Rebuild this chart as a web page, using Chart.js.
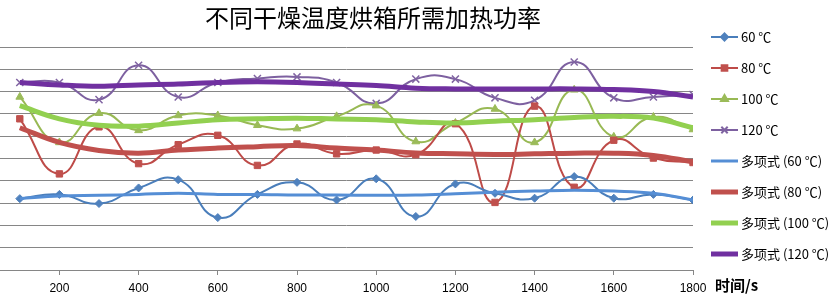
<!DOCTYPE html>
<html>
<head>
<meta charset="utf-8">
<script src="https://cdn.jsdelivr.net/npm/chart.js@4"></script>
<style>
  body { margin: 0; background: #fff; }
  #wrap { position: relative; width: 831px; height: 303px; }
  #chart { position: absolute; left: 0; top: 0; }
  #legend { position: absolute; left: 710px; top: 21px; font-family: "Noto Sans CJK SC", sans-serif; font-size: 13px; color: #000; }
  #legend .item { display: flex; align-items: center; height: 31px; white-space: nowrap; }
  #legend canvas { margin-right: 2px; }
</style>
</head>
<body>
<div id="wrap">
  <canvas id="chart" width="831" height="303"></canvas>
  <div id="legend"></div>
</div>
<script>
const times = [100, 200, 300, 400, 500, 600, 700, 800, 900, 1000, 1100, 1200, 1300, 1400, 1500, 1600, 1700, 1800];
const xTicks = [200, 400, 600, 800, 1000, 1200, 1400, 1600, 1800];

const p60  = [3.20, 3.39, 2.98, 3.68, 4.05, 2.35, 3.39, 3.93, 3.14, 4.09, 2.40, 3.86, 3.44, 3.22, 4.19, 3.22, 3.39, 3.14];
const p80  = [6.78, 4.31, 6.42, 4.77, 5.62, 6.04, 4.69, 5.65, 5.21, 5.38, 5.17, 6.56, 3.03, 7.35, 3.71, 5.82, 5.02, 4.82];
const p100 = [7.76, 5.72, 7.03, 6.26, 6.93, 6.93, 6.49, 6.34, 6.89, 7.37, 5.76, 6.59, 7.22, 5.72, 8.08, 5.97, 6.86, 6.30];
const p120 = [8.41, 8.41, 7.64, 9.18, 7.76, 8.41, 8.59, 8.66, 8.41, 7.47, 8.56, 8.56, 7.72, 7.61, 9.33, 7.72, 7.76, 7.87];

// polynomial trend lines
const fit60  = [3.20, 3.32, 3.35, 3.39, 3.44, 3.39, 3.39, 3.36, 3.36, 3.35, 3.36, 3.42, 3.49, 3.54, 3.58, 3.54, 3.44, 3.14];
const fit80  = [6.38, 5.72, 5.36, 5.24, 5.38, 5.47, 5.53, 5.58, 5.47, 5.38, 5.25, 5.21, 5.18, 5.21, 5.24, 5.24, 5.14, 4.85];
const fit100 = [7.37, 6.78, 6.49, 6.45, 6.59, 6.74, 6.78, 6.81, 6.77, 6.74, 6.64, 6.59, 6.67, 6.74, 6.84, 6.89, 6.81, 6.38];
const fit120 = [8.41, 8.30, 8.24, 8.30, 8.34, 8.41, 8.44, 8.41, 8.34, 8.27, 8.15, 8.12, 8.12, 8.12, 8.12, 8.09, 8.00, 7.76];

const titleText = '不同干燥温度烘箱所需加热功率';

function pts(arr){
    return times.map((t, i) => ({x: t, y: arr[i]}));
}

function series(label, arr, line, fill, style, r){
    return {
        label: label, data: pts(arr),
        borderColor: line, backgroundColor: fill, borderWidth: 2,
        pointStyle: style, pointRadius: r, pointBorderColor: fill, pointBackgroundColor: fill,
        pointBorderWidth: style === 'crossRot' ? 1.5 : 1,
        tension: 0.5, order: 2
    };
}

function trend(label, arr, color, w){
    return {
        label: label, data: pts(arr),
        borderColor: color, backgroundColor: color, borderWidth: w,
        pointRadius: 0, tension: 0.4, order: 1
    };
}

// title and axis caption drawn in the reserved margins
const texts = {
    id: 'texts',
    afterDraw(chart){
        const ctx = chart.ctx, a = chart.chartArea;
        ctx.save();
        ctx.fillStyle = '#000';
        ctx.textBaseline = 'middle';
        ctx.textAlign = 'center';
        ctx.font = '24px "Noto Sans CJK SC"';
        ctx.fillText(titleText, 373, 18);
        ctx.textAlign = 'left';
        ctx.font = 'bold 15px "Noto Sans CJK SC"';
        ctx.fillText('时间/s', a.right + 22, a.bottom + 15);
        ctx.restore();
    }
};

const chart = new Chart(document.getElementById('chart').getContext('2d'), {
    type: 'line',
    data: {
        datasets: [
            series('60 ℃', p60, '#4A7EBB', '#4F81BD', 'rectRot', 4),
            series('80 ℃', p80, '#BE4B48', '#C0504D', 'rect', 4.5),
            series('100 ℃', p100, '#98B954', '#9BBB59', 'triangle', 4.5),
            series('120 ℃', p120, '#7D60A0', '#8064A2', 'crossRot', 5),
            trend('多项式 (60 ℃)', fit60, '#558ED5', 3),
            trend('多项式 (80 ℃)', fit80, '#C0504D', 5),
            trend('多项式 (100 ℃)', fit100, '#92D050', 5),
            trend('多项式 (120 ℃)', fit120, '#7030A0', 5)
        ]
    },
    options: {
        responsive: false,
        animation: false,
        layout: { autoPadding: false, padding: { left: 0, right: 138, top: 47, bottom: 1.6 } },
        plugins: {
            legend: { display: false },
            tooltip: { enabled: false },
            title: { display: false }
        },
        scales: {
            x: {
                type: 'linear', min: 50, max: 1800,
                afterBuildTicks: axis => { axis.ticks = xTicks.map(v => ({value: v})); },
                grid: { drawOnChartArea: false, color: '#868686', tickLength: 5 },
                border: { color: '#868686' },
                ticks: {
                    color: '#000', padding: 6, maxRotation: 0,
                    font: { family: '"Liberation Sans"', size: 12 },
                    callback: v => String(v)
                }
            },
            y: {
                min: 0, max: 10,
                ticks: { display: false, stepSize: 1 },
                grid: { color: '#868686', drawTicks: false },
                border: { display: false }
            }
        }
    },
    plugins: [texts]
});

// html legend, built from the chart's datasets
function drawSample(c, ds){
    const ctx = c.getContext('2d');
    const y = c.height / 2;
    ctx.strokeStyle = ds.borderColor;
    ctx.lineWidth = ds.borderWidth;
    ctx.beginPath(); ctx.moveTo(1, y); ctx.lineTo(c.width - 1, y); ctx.stroke();
    if (ds.pointRadius > 0){
        ctx.fillStyle = ds.pointBackgroundColor;
        ctx.strokeStyle = ds.pointBorderColor;
        Chart.helpers.drawPoint(ctx, {
            pointStyle: ds.pointStyle, radius: ds.pointRadius - 0.5, borderWidth: ds.pointBorderWidth
        }, c.width / 2, y);
    }
}

const legend = document.getElementById('legend');
chart.data.datasets.forEach(ds => {
    const item = document.createElement('div');
    item.className = 'item';
    const c = document.createElement('canvas');
    c.width = 29; c.height = 12;
    drawSample(c, ds);
    const s = document.createElement('span');
    s.textContent = ds.label;
    item.appendChild(c); item.appendChild(s);
    legend.appendChild(item);
});
</script>
</body>
</html>
